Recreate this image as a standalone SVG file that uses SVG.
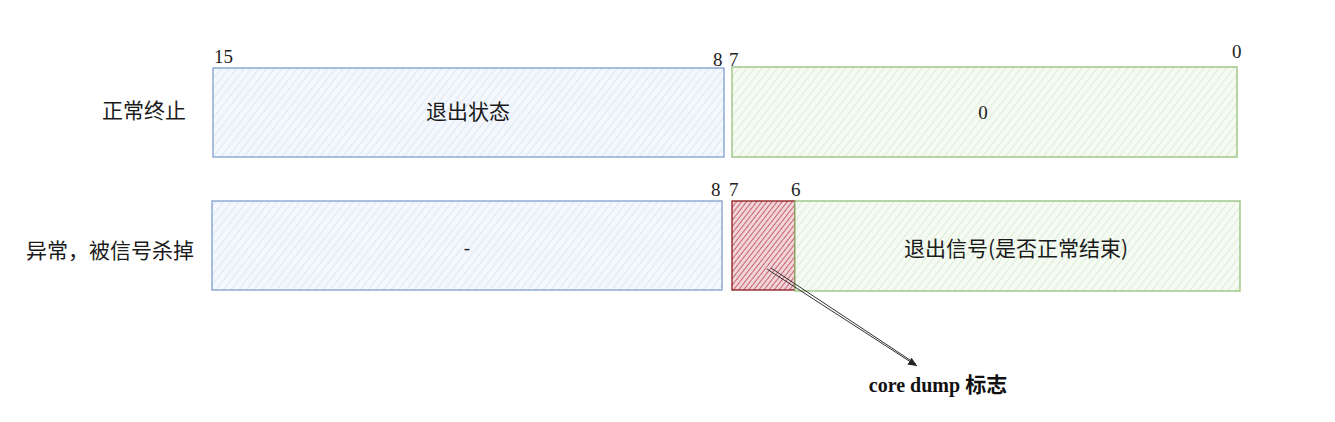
<svg xmlns="http://www.w3.org/2000/svg" width="1335" height="422" viewBox="0 0 1335 422">
<style>
.lbl{font-family:"Noto Sans CJK SC","Noto Sans",sans-serif;font-size:21px;fill:#1a1a1a}
.num{font-family:"Liberation Serif",serif;font-size:19px;fill:#222}
.blue{fill:url(#hb);stroke:#7f9fcf;stroke-width:1.3}
.green{fill:url(#hg);stroke:#93c07a;stroke-width:1.3}
.red{fill:url(#hr);stroke:#8b1a1a;stroke-width:1.3}
</style>
<defs>
<pattern id="hb" width="6" height="6" patternUnits="userSpaceOnUse" patternTransform="rotate(38)">
<rect width="6" height="6" fill="#f4f8fd"/>
<line x1="0" y1="0" x2="0" y2="6" stroke="#d3e0f4" stroke-width="1.4"/>
</pattern>
<pattern id="hg" width="6" height="6" patternUnits="userSpaceOnUse" patternTransform="rotate(38)">
<rect width="6" height="6" fill="#f5faf3"/>
<line x1="0" y1="0" x2="0" y2="6" stroke="#d2e8cb" stroke-width="1.4"/>
</pattern>
<pattern id="hr" width="4" height="4" patternUnits="userSpaceOnUse" patternTransform="rotate(38)">
<rect width="4" height="4" fill="#f1d5d8"/>
<line x1="0" y1="0" x2="0" y2="4" stroke="#b8404f" stroke-width="1.5"/>
</pattern>
<marker id="ah" markerWidth="10" markerHeight="10" refX="9" refY="5" orient="auto" markerUnits="userSpaceOnUse">
<path d="M0,1 L9,5 L0,9 Z" fill="#222"/>
</marker>
</defs>

<g id="row-labels">
<text class="lbl" x="144" y="118" text-anchor="middle">正常终止</text>
<text class="lbl" x="110" y="258" text-anchor="middle">异常，被信号杀掉</text>
</g>

<g id="bits">
<text class="num" x="214" y="63">15</text>
<text class="num" x="713" y="66">8</text>
<text class="num" x="729" y="66">7</text>
<text class="num" x="1232" y="58">0</text>
<text class="num" x="711" y="196">8</text>
<text class="num" x="729" y="196">7</text>
<text class="num" x="791" y="196">6</text>
</g>

<g id="n-exit-status">
<rect class="blue" x="213" y="68" width="511" height="89"/>
<text class="lbl" x="468" y="119" text-anchor="middle">退出状态</text>
</g>
<g id="n-zero">
<rect class="green" x="732" y="67" width="505" height="90"/>
<text class="num" x="983" y="119" text-anchor="middle">0</text>
</g>
<g id="n-dash">
<rect class="blue" x="212" y="201" width="510" height="89"/>
<text class="num" x="467" y="254" text-anchor="middle">-</text>
</g>
<g id="n-core">
<rect class="red" x="732" y="201" width="63" height="89"/>
</g>
<g id="n-signal">
<rect class="green" x="795" y="201" width="445" height="90"/>
<text class="lbl" x="1016" y="256" text-anchor="middle">退出信号(是否正常结束)</text>
</g>

<g id="connectors">
<path d="M767,269 L917,366" fill="none" stroke="#333" stroke-width="1" marker-end="url(#ah)"/>
<path d="M771,268 L916,364" fill="none" stroke="#333" stroke-width="1"/>
</g>

<g id="n-core-label">
<text x="938" y="392" text-anchor="middle" style="font-family:'Liberation Serif','Noto Sans CJK SC',serif;font-size:20px;font-weight:bold;fill:#111">core dump <tspan style="font-family:'Noto Sans CJK SC',sans-serif;font-size:21px">标志</tspan></text>
</g>
</svg>
